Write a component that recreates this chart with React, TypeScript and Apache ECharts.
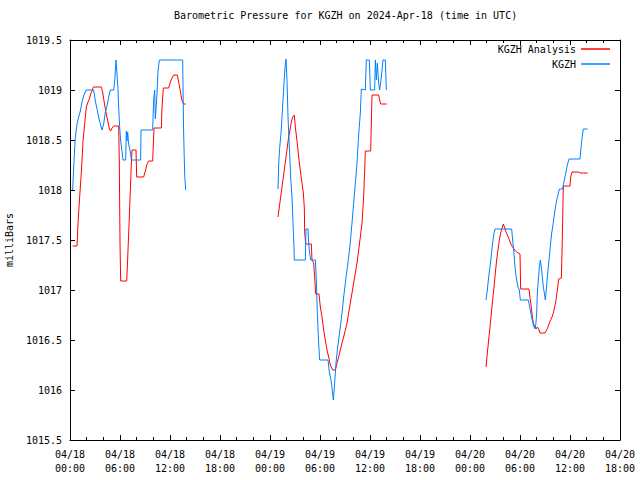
import React, { useEffect, useRef } from "react";
import * as echarts from "echarts";

// Hours since 2024-04-18 00:00 UTC, and pressure (mb)
const analysisSeg1Hours = [0.32, 0.84, 0.96, 1.08, 1.2, 1.32, 1.44, 1.56, 1.68, 1.84, 1.96, 2.16, 2.32, 2.48, 2.64, 2.8, 3.76, 3.92, 4.08, 4.24, 4.4, 4.56, 4.72, 4.88, 5.04, 5.24, 5.84, 5.92, 6.0, 6.08, 6.8, 6.88, 7.0, 7.12, 7.24, 7.36, 7.44, 7.92, 8.0, 8.84, 9.04, 9.24, 9.44, 9.92, 10.08, 10.96, 11.04, 11.2, 11.84, 12.04, 12.24, 12.44, 12.88, 13.04, 13.24, 13.44, 13.64, 13.88];
const analysisSeg1Values = [1017.44, 1017.44, 1017.66, 1017.83, 1017.98, 1018.13, 1018.29, 1018.49, 1018.59, 1018.73, 1018.83, 1018.88, 1018.91, 1018.96, 1018.99, 1019.03, 1019.03, 1018.98, 1018.89, 1018.81, 1018.74, 1018.68, 1018.61, 1018.59, 1018.62, 1018.64, 1018.64, 1018.26, 1017.48, 1017.09, 1017.09, 1017.23, 1017.48, 1017.73, 1018.0, 1018.26, 1018.4, 1018.4, 1018.13, 1018.13, 1018.19, 1018.26, 1018.29, 1018.29, 1018.62, 1018.62, 1018.83, 1019.02, 1019.02, 1019.08, 1019.12, 1019.15, 1019.15, 1019.08, 1018.99, 1018.89, 1018.86, 1018.86];

const analysisSeg2Hours = [24.96, 25.12, 25.28, 25.44, 25.6, 25.76, 25.92, 26.08, 26.24, 26.4, 26.56, 26.72, 26.92, 27.04, 27.2, 27.36, 27.52, 27.68, 27.84, 28.0, 28.12, 28.16, 28.28, 28.96, 29.04, 29.24, 29.36, 29.48, 29.88, 30.04, 30.24, 30.44, 30.64, 30.84, 31.04, 31.24, 31.52, 31.84, 32.04, 32.24, 32.44, 32.64, 32.84, 33.04, 33.24, 33.44, 33.64, 33.84, 34.04, 34.24, 34.44, 34.64, 34.84, 35.04, 35.24, 35.36, 35.44, 36.08, 36.16, 36.24, 37.04, 37.16, 37.28, 38.0];
const analysisSeg2Values = [1017.73, 1017.83, 1017.93, 1018.03, 1018.13, 1018.23, 1018.33, 1018.43, 1018.53, 1018.6, 1018.68, 1018.73, 1018.75, 1018.63, 1018.52, 1018.4, 1018.27, 1018.17, 1018.07, 1017.97, 1017.82, 1017.58, 1017.46, 1017.46, 1017.3, 1017.27, 1017.13, 1016.96, 1016.96, 1016.83, 1016.73, 1016.6, 1016.5, 1016.4, 1016.33, 1016.25, 1016.2, 1016.2, 1016.27, 1016.33, 1016.4, 1016.47, 1016.53, 1016.6, 1016.67, 1016.77, 1016.87, 1016.97, 1017.07, 1017.17, 1017.27, 1017.4, 1017.53, 1017.67, 1017.93, 1018.2, 1018.39, 1018.39, 1018.67, 1018.95, 1018.95, 1018.9, 1018.86, 1018.86];

const analysisSeg3Hours = [49.92, 50.08, 50.24, 50.4, 50.56, 50.72, 50.88, 51.04, 51.2, 51.36, 51.52, 51.68, 51.84, 52.0, 52.16, 52.32, 52.48, 52.64, 52.8, 52.96, 53.12, 53.28, 53.44, 53.6, 54.0, 54.08, 55.08, 55.2, 55.36, 55.48, 55.6, 55.76, 55.92, 56.08, 56.24, 56.4, 57.0, 57.2, 57.36, 57.52, 57.68, 57.84, 58.0, 58.16, 58.32, 58.48, 58.64, 58.96, 59.04, 59.12, 59.2, 60.0, 60.08, 60.24, 61.08, 61.2, 62.12];
const analysisSeg3Values = [1016.23, 1016.37, 1016.5, 1016.63, 1016.77, 1016.9, 1017.03, 1017.17, 1017.3, 1017.4, 1017.5, 1017.57, 1017.62, 1017.66, 1017.62, 1017.58, 1017.55, 1017.52, 1017.48, 1017.45, 1017.43, 1017.41, 1017.39, 1017.38, 1017.36, 1017.01, 1017.01, 1016.92, 1016.83, 1016.73, 1016.67, 1016.63, 1016.61, 1016.63, 1016.61, 1016.57, 1016.57, 1016.6, 1016.63, 1016.67, 1016.7, 1016.73, 1016.77, 1016.83, 1016.9, 1017.0, 1017.11, 1017.12, 1017.37, 1017.7, 1018.04, 1018.04, 1018.13, 1018.18, 1018.18, 1018.17, 1018.17];

const obsSeg1Hours = [0.32, 0.44, 0.64, 0.84, 1.04, 1.24, 1.44, 1.64, 1.92, 2.84, 3.04, 3.24, 3.44, 3.64, 3.84, 4.04, 4.24, 4.44, 4.64, 4.84, 5.24, 5.36, 5.44, 5.52, 5.64, 5.76, 5.84, 5.96, 6.08, 6.24, 6.36, 6.68, 6.76, 6.84, 6.92, 7.04, 7.24, 7.36, 8.48, 8.52, 9.92, 10.04, 10.16, 10.24, 10.44, 10.56, 10.72, 13.52, 13.64, 13.76, 13.88];
const obsSeg1Values = [1018.0, 1018.23, 1018.53, 1018.66, 1018.73, 1018.79, 1018.88, 1018.94, 1019.0, 1019.0, 1018.89, 1018.81, 1018.73, 1018.66, 1018.6, 1018.66, 1018.78, 1018.84, 1018.93, 1019.0, 1019.0, 1019.08, 1019.19, 1019.3, 1019.16, 1019.0, 1018.83, 1018.63, 1018.49, 1018.39, 1018.3, 1018.3, 1018.59, 1018.49, 1018.58, 1018.46, 1018.38, 1018.3, 1018.3, 1018.6, 1018.6, 1018.9, 1019.0, 1018.71, 1018.96, 1019.19, 1019.3, 1019.3, 1018.56, 1018.16, 1018.0];

const obsSeg2Hours = [24.96, 25.04, 25.16, 25.32, 25.44, 25.56, 25.68, 25.8, 25.92, 26.04, 26.16, 26.32, 26.48, 26.64, 26.76, 26.88, 26.92, 28.24, 28.32, 28.56, 28.64, 28.76, 28.88, 29.44, 29.56, 29.68, 29.84, 29.96, 30.96, 31.12, 31.32, 31.44, 31.6, 31.76, 31.92, 32.08, 32.24, 32.44, 32.64, 32.84, 33.04, 33.24, 33.44, 33.64, 33.84, 34.04, 34.24, 34.44, 34.64, 34.84, 34.96, 35.44, 35.56, 35.92, 36.04, 36.56, 36.64, 36.76, 36.88, 37.04, 37.16, 37.32, 37.44, 37.56, 37.84, 37.96];
const obsSeg2Values = [1018.01, 1018.25, 1018.42, 1018.57, 1018.73, 1018.9, 1019.07, 1019.22, 1019.31, 1019.1, 1018.73, 1018.43, 1018.13, 1017.93, 1017.67, 1017.43, 1017.3, 1017.3, 1017.61, 1017.61, 1017.47, 1017.37, 1017.3, 1017.3, 1017.1, 1016.77, 1016.47, 1016.3, 1016.3, 1016.18, 1016.1, 1016.02, 1015.9, 1016.07, 1016.27, 1016.4, 1016.5, 1016.63, 1016.77, 1016.93, 1017.07, 1017.2, 1017.33, 1017.48, 1017.67, 1017.87, 1018.07, 1018.27, 1018.55, 1018.77, 1019.01, 1019.0, 1019.3, 1019.3, 1019.0, 1019.0, 1019.3, 1019.1, 1019.27, 1019.07, 1019.0, 1019.1, 1019.2, 1019.3, 1019.3, 1019.0];

const obsSeg3Hours = [49.92, 50.08, 50.24, 50.4, 50.56, 50.72, 50.88, 51.0, 53.0, 53.12, 53.24, 53.36, 53.48, 53.6, 53.76, 53.92, 54.04, 55.0, 55.12, 55.28, 55.4, 55.52, 55.68, 55.84, 55.92, 56.0, 56.08, 56.2, 56.32, 56.44, 56.56, 56.68, 56.8, 56.92, 57.04, 57.12, 57.28, 57.4, 57.52, 57.68, 57.8, 57.92, 58.08, 58.24, 58.4, 58.56, 58.72, 59.12, 59.2, 59.32, 59.44, 59.56, 59.68, 59.88, 61.2, 61.32, 61.44, 61.6, 62.12];
const obsSeg3Values = [1016.9, 1017.0, 1017.13, 1017.23, 1017.35, 1017.47, 1017.57, 1017.61, 1017.61, 1017.5, 1017.4, 1017.27, 1017.17, 1017.1, 1017.03, 1017.0, 1016.9, 1016.9, 1016.85, 1016.78, 1016.73, 1016.68, 1016.63, 1016.61, 1016.68, 1016.77, 1016.97, 1017.1, 1017.23, 1017.3, 1017.23, 1017.13, 1017.03, 1016.97, 1016.9, 1016.97, 1017.13, 1017.23, 1017.33, 1017.47, 1017.57, 1017.63, 1017.73, 1017.82, 1017.9, 1017.95, 1018.01, 1018.01, 1018.05, 1018.1, 1018.15, 1018.2, 1018.25, 1018.31, 1018.31, 1018.42, 1018.52, 1018.61, 1018.61];

const seriesNames = ["KGZH Analysis", "KGZH"];
const seriesColors = ["#ff0000", "#0080ff"];
const titleText = "Barometric Pressure for KGZH on 2024-Apr-18 (time in UTC)";
const yAxisTitle = "milliBars";
const dayLabels = ["04/18", "04/19", "04/20"];

function joinSegments(segs: [number[], number[]][]) {
  const out: (number | null)[][] = [];
  segs.forEach(([hs, vs], i) => {
    if (i > 0) out.push([hs[0] - 0.01, null]);
    hs.forEach((h, j) => out.push([h, vs[j]]));
  });
  return out;
}

const FONT = "DejaVu Sans Mono";

export default function App() {
  const ref = useRef<HTMLDivElement>(null);
  useEffect(() => {
    if (!ref.current) return;
    const chart = echarts.init(ref.current, null, { renderer: "svg" });
    const xLabel = (v: number) => {
      const d = Math.floor(v / 24);
      const h = v % 24;
      return `${dayLabels[d] ?? ""}\n${String(h).padStart(2, "0")}:00`;
    };
    const textStyle = { fontFamily: FONT, fontSize: 10, color: "#000" };
    const xCommon = {
      type: "value",
      min: 0,
      max: 66,
      interval: 6,
      axisLine: { show: true, onZero: false, lineStyle: { color: "#000", width: 1 } },
      axisTick: { show: true, inside: true, length: 5, lineStyle: { color: "#000" } },
      minorTick: { show: true, splitNumber: 3, length: 3, lineStyle: { color: "#000" } },
      splitLine: { show: false },
      minorSplitLine: { show: false },
    };
    const yCommon = {
      type: "value",
      min: 1015.5,
      max: 1019.5,
      interval: 0.5,
      axisLine: { show: true, onZero: false, lineStyle: { color: "#000", width: 1 } },
      axisTick: { show: true, inside: true, length: 5, lineStyle: { color: "#000" } },
      splitLine: { show: false },
    };
    chart.setOption({
      animation: false,
      backgroundColor: "#fff",
      textStyle: { fontFamily: FONT },
      title: {
        text: titleText,
        left: 174,
        top: 10,
        padding: 0,
        textStyle: { ...textStyle, fontWeight: "normal" },
      },
      legend: [
        {
          data: [seriesNames[0]],
          right: 30,
          top: 42,
          padding: 0,
          align: "right",
          icon: "rect",
          itemWidth: 29,
          itemHeight: 1.5,
          textStyle: { ...textStyle, lineHeight: 14 },
        },
        {
          data: [seriesNames[1]],
          right: 30,
          top: 57,
          padding: 0,
          align: "right",
          icon: "rect",
          itemWidth: 29,
          itemHeight: 1.5,
          textStyle: { ...textStyle, lineHeight: 14 },
        },
      ],
      grid: { left: 70, right: 20, top: 40, bottom: 40, containLabel: false, outerBoundsMode: "none" },
      xAxis: [
        {
          ...xCommon,
          position: "bottom",
          axisLabel: { ...textStyle, margin: 7, lineHeight: 14, formatter: xLabel },
        },
        {
          ...xCommon,
          position: "top",
          axisLabel: { show: false },
        },
      ],
      yAxis: [
        {
          ...yCommon,
          position: "left",
          name: yAxisTitle,
          nameLocation: "middle",
          nameRotate: 90,
          nameGap: 44,
          nameTextStyle: textStyle,
          axisLabel: { ...textStyle, margin: 8, formatter: (v: number) => String(v) },
        },
        {
          ...yCommon,
          position: "right",
          axisLabel: { show: false },
        },
      ],
      series: [
        {
          name: seriesNames[0],
          type: "line",
          xAxisIndex: 0,
          yAxisIndex: 0,
          showSymbol: false,
          connectNulls: false,
          color: seriesColors[0],
          lineStyle: { color: seriesColors[0], width: 1 },
          data: joinSegments([
            [analysisSeg1Hours, analysisSeg1Values],
            [analysisSeg2Hours, analysisSeg2Values],
            [analysisSeg3Hours, analysisSeg3Values],
          ]),
        },
        {
          name: seriesNames[1],
          type: "line",
          xAxisIndex: 0,
          yAxisIndex: 0,
          showSymbol: false,
          connectNulls: false,
          color: seriesColors[1],
          lineStyle: { color: seriesColors[1], width: 1 },
          data: joinSegments([
            [obsSeg1Hours, obsSeg1Values],
            [obsSeg2Hours, obsSeg2Values],
            [obsSeg3Hours, obsSeg3Values],
          ]),
        },
      ],
    });
    return () => chart.dispose();
  }, []);
  return <div ref={ref} style={{ width: 640, height: 480, position: "absolute", left: 0, top: 0 }} />;
}
